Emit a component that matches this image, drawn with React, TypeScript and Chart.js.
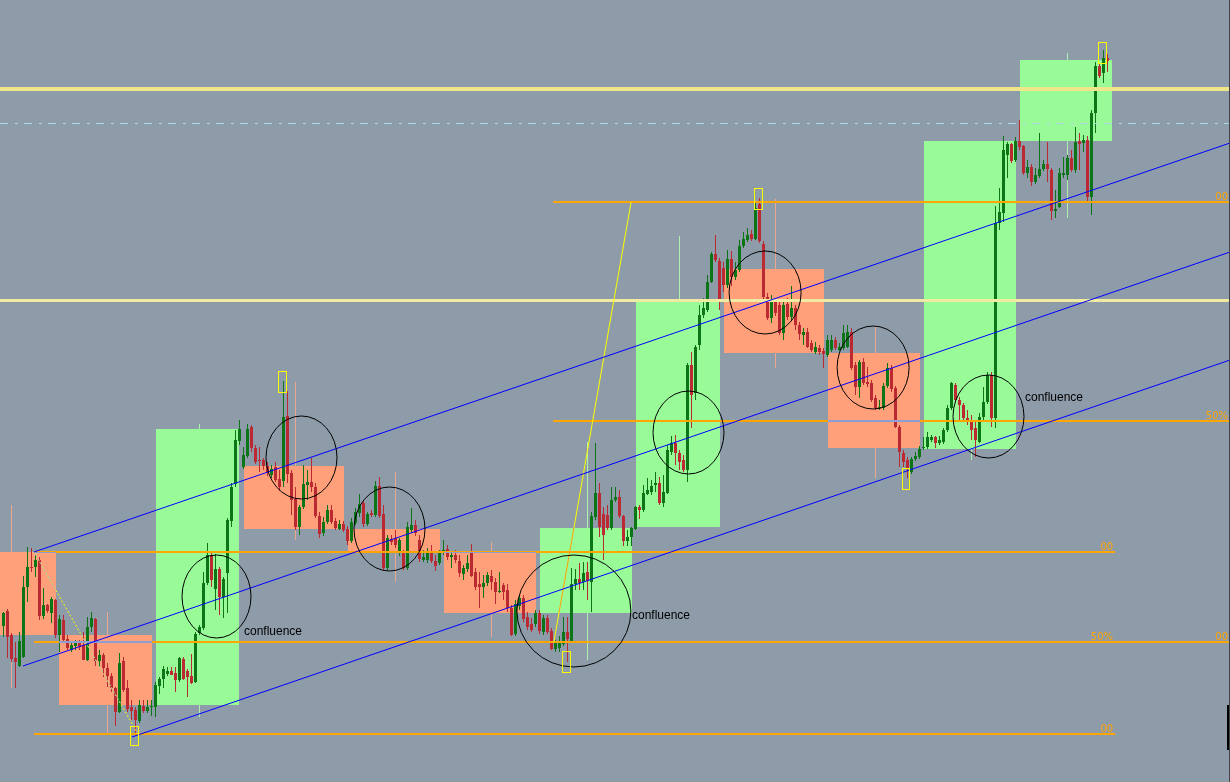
import React, { useEffect, useRef } from "react";
import { Chart, registerables } from "chart.js";

Chart.register(...registerables);

// ---- hourly candles (price units) ----
const opens = [374,389,365,342,334,343,413,433,433,440,384,395,387,400,365,380,361,350,354,357,355,340,373,381,339,345,332,324,312,288,339,312,293,290,279,294,289,293,293,314,321,326,329,327,320,341,329,324,318,367,372,417,445,411,431,403,427,479,516,559,533,544,573,552,540,540,534,525,533,521,519,584,527,501,473,493,515,518,513,484,467,478,490,479,471,476,471,459,477,487,497,476,487,485,514,486,432,461,462,447,447,432,470,475,460,440,440,449,439,437,447,451,443,445,439,426,431,447,428,416,413,417,424,418,408,415,410,392,366,394,402,383,376,376,387,368,382,369,351,352,356,368,358,416,421,418,428,418,483,507,486,485,472,500,503,484,459,463,471,493,490,506,508,515,517,497,507,548,557,547,540,530,635,607,655,685,690,718,746,739,732,715,741,723,730,754,760,766,761,796,756,703,682,698,695,667,696,683,692,675,665,668,657,648,652,649,645,650,660,650,652,653,668,635,613,638,618,617,602,592,592,614,632,612,573,547,540,528,541,543,552,553,560,563,557,558,570,592,615,600,595,582,580,572,558,583,598,625,582,777,787,845,856,840,859,854,827,833,818,824,831,836,830,789,793,825,825,842,830,859,857,860,803,887,934,927,942];
const highs = [388,391,367,358,368,424,453,452,445,443,412,396,403,401,385,385,365,357,360,360,368,383,388,382,350,347,337,327,313,347,343,320,300,293,300,300,300,300,318,323,334,333,333,333,343,343,331,346,368,375,428,457,449,446,433,423,482,517,570,580,553,576,575,555,553,542,538,535,538,530,619,609,530,513,495,535,530,542,517,488,483,495,495,482,480,479,474,482,492,506,500,488,490,519,523,495,465,465,470,462,450,478,492,480,465,450,452,455,445,450,460,455,448,450,445,435,445,456,432,428,425,428,430,422,428,417,416,395,400,405,405,388,382,390,390,385,385,372,360,364,383,383,432,431,437,438,438,488,557,517,493,495,513,513,510,485,470,473,494,495,515,522,520,528,523,525,555,564,565,550,545,637,648,655,695,702,725,748,765,742,738,750,749,738,760,768,772,770,799,802,759,707,705,702,700,698,702,714,695,678,672,672,660,658,655,652,665,665,663,657,675,675,672,638,640,642,633,620,605,600,617,637,635,614,575,550,543,543,548,554,563,568,565,564,564,572,595,618,617,603,597,590,585,580,587,613,628,628,794,812,864,858,857,863,880,855,840,836,832,867,840,858,832,810,832,843,845,850,873,867,865,864,890,938,937,950,946];
const lows = [363,342,338,312,333,342,398,428,423,380,381,387,377,362,348,358,350,348,350,350,340,339,368,334,333,323,313,308,274,287,308,288,280,267,277,287,287,284,283,306,312,324,325,308,318,320,303,316,317,365,370,415,413,390,385,382,387,473,513,555,531,542,548,536,528,530,524,522,518,509,513,517,485,470,465,491,500,508,482,462,464,476,476,470,470,468,455,457,475,483,473,474,483,483,482,430,430,455,452,444,430,430,467,464,438,438,437,437,429,435,445,440,432,437,423,420,428,423,410,392,402,414,410,396,407,400,388,364,364,390,378,370,368,373,366,365,366,350,348,348,354,338,357,410,410,410,400,388,480,463,440,470,470,498,482,454,454,454,470,481,488,505,505,508,495,493,506,545,535,530,528,518,572,600,650,682,688,717,738,690,708,712,714,720,728,752,758,759,760,757,698,680,677,684,665,660,680,680,670,660,655,652,648,646,645,632,643,648,650,649,650,652,630,605,602,615,613,598,590,590,590,612,608,572,533,533,522,526,539,541,550,551,558,552,555,556,568,590,598,580,578,575,560,543,557,580,596,573,572,770,778,822,837,838,850,825,822,814,816,822,829,818,780,782,792,822,820,828,827,830,848,797,785,867,922,917,928];
const closes = [387,363,341,338,359,413,433,432,440,384,395,389,401,365,381,360,352,355,357,353,340,373,382,339,345,332,324,312,288,337,310,291,289,280,295,289,293,294,315,321,331,329,325,320,342,321,323,317,366,373,417,445,420,431,403,421,480,513,560,571,545,571,552,538,539,534,527,531,520,513,583,526,500,473,493,516,518,513,484,466,478,490,478,472,476,470,459,478,488,496,476,486,485,514,484,432,462,458,455,460,432,473,475,467,441,443,449,439,434,447,450,443,445,440,427,432,437,424,413,413,417,425,418,408,409,408,392,365,396,402,381,373,370,387,369,382,368,351,357,357,368,361,416,421,417,427,419,484,507,473,465,472,500,503,484,459,463,472,493,490,507,510,514,517,497,508,550,557,547,538,530,635,605,653,685,692,718,746,740,698,715,741,723,730,754,761,765,761,792,759,703,682,701,687,667,695,683,692,675,666,668,653,650,653,648,646,660,660,652,653,667,668,632,613,638,617,616,600,592,593,614,632,611,573,548,538,532,541,544,551,553,563,563,557,560,570,592,617,600,595,582,579,570,560,583,598,625,582,777,788,850,856,839,859,853,827,833,818,825,831,836,831,789,791,827,827,842,830,858,856,860,803,887,934,924,942,939];

// ---- daily candles drawn as boxes (start/end hour index, open/close) and wicks ----
const dayStart = [-1, 14, 38, 60, 86, 110, 134, 158, 180, 206, 230, 254];
const dayEnd = [13, 37, 59, 85, 109, 133, 157, 179, 205, 229, 253, 277];
const dayOpen = [448, 365, 295, 534, 471, 448, 387, 473, 731, 647, 551, 859];
const dayClose = [365, 295, 571, 471, 449, 387, 472, 700, 647, 552, 859, 940];
const dayMid = [2, 26, 49, 73, 98, 122, 146, 169, 193, 218, 242, 266];
const dayHigh = [495, 388, 576, 618, 528, 458, 558, 764, 801, 673, 859, 947];
const dayLow = [312, 267, 283, 460, 418, 363, 340, 520, 632, 522, 540, 782];

// ---- fibonacci levels ----
const fib1Range = [7.625, 277.9];
const fib1Levels = [448, 358, 266];
const fib2Range = [137.4, 307];
const fib2Levels = [798, 579, 358];
const fibLabels = ["00", "50%", "00"];
// fib diagonals [k1, p1, k2, p2]
const fib1Diag = [7.625, 448, 33.6, 266];
const fib2Diag = [137.6, 358, 156.9, 798];

// ---- channel (trend) lines [k1, p1, k2, p2] ----
const channelUpper = [7.625, 448, 306.625, 857];
const channelMid = [4.875, 334, 306.625, 748];
const channelLower = [32.125, 263, 306.625, 640];

// ---- horizontal levels ----
const levelTop = 911;
const levelMid = 699.5;
const levelDash = 876.5;

// ---- ellipses: centre index, centre price, half-width (index), half-height (price) ----
const ellipseK = [53.25, 74.5, 96.5, 142.6, 171.25, 190.4, 217.4, 246.25];
const ellipseP = [403.5, 542.5, 471, 389, 567.5, 707.5, 632.5, 583.5];
const ellipseHK = [8.625, 8.875, 8.875, 14.25, 8.875, 9, 9, 8.875];
const ellipseHP = [41.5, 41.5, 42, 56, 41.5, 41.5, 41.5, 41.5];

// ---- labels ----
const noteText = ["confluence", "confluence", "confluence"];
const noteK = [60.125, 157.125, 255.375];
const noteP = [368, 384, 602];

// ---- swing markers [k1, p1, k2, p2] ----
const markers = [
  [31.625, 274, 33.625, 255],
  [68.625, 629, 70.625, 608],
  [139.625, 349, 141.625, 328],
  [187.625, 812, 189.625, 791],
  [224.625, 532, 226.375, 511],
  [273.625, 958, 275.625, 937],
];

const XMIN = -0.875;
const XMAX = 306.625;
const YMIN = 218;
const YMAX = 1000;

const BG = "#8E9BA9";
const SALMON = "#FFA07A";
const PALEGREEN = "#98FB98";
const ORANGE = "#FFA500";
const ORANGE_ON_SALMON = "#8D9ED3";
const UP = "#0B7518";
const DOWN = "#BB2A32";

const overlay = {
  id: "overlay",
  beforeDraw(chart: any) {
    const ctx = chart.ctx;
    ctx.save();
    ctx.fillStyle = BG;
    ctx.fillRect(0, 0, chart.width, chart.height);
    ctx.restore();
  },
  beforeDatasetsDraw(chart: any) {
    const ctx = chart.ctx;
    const xs = chart.scales.x;
    const ys = chart.scales.y;
    ctx.save();
    // daily wicks (behind boxes)
    for (let i = 0; i < dayMid.length; i++) {
      const up = dayClose[i] >= dayOpen[i];
      const x = Math.round(xs.getPixelForValue(dayMid[i]) - 0.5);
      const y1 = Math.round(ys.getPixelForValue(dayHigh[i]));
      const y2 = Math.round(ys.getPixelForValue(dayLow[i]));
      ctx.fillStyle = up ? "#AEF2AE" : "#EFA68F";
      ctx.fillRect(x, y1, 1, y2 - y1);
    }
    // daily boxes
    for (let i = 0; i < dayStart.length; i++) {
      const up = dayClose[i] >= dayOpen[i];
      const r = boxRect(chart, i);
      ctx.fillStyle = up ? PALEGREEN : SALMON;
      ctx.fillRect(r[0], r[1], r[2] - r[0], r[3] - r[1]);
    }
    ctx.restore();
  },
  afterDatasetsDraw(chart: any) {
    const ctx = chart.ctx;
    const xs = chart.scales.x;
    const ys = chart.scales.y;
    const X = (k: number) => xs.getPixelForValue(k);
    const Y = (p: number) => ys.getPixelForValue(p);
    const W = chart.width;

    // thick horizontal levels
    ctx.save();
    ctx.strokeStyle = "#F0E68C";
    ctx.lineWidth = 4;
    ctx.beginPath();
    ctx.moveTo(0, Y(levelTop));
    ctx.lineTo(W, Y(levelTop));
    ctx.stroke();
    ctx.strokeStyle = "#F0EAA2";
    ctx.lineWidth = 3;
    ctx.beginPath();
    ctx.moveTo(0, Y(levelMid));
    ctx.lineTo(W, Y(levelMid));
    ctx.stroke();
    // dash-dot level
    ctx.strokeStyle = "#ADD8E6";
    ctx.lineWidth = 1;
    ctx.setLineDash([8, 7, 3, 6]);
    ctx.beginPath();
    ctx.moveTo(0, Y(levelDash));
    ctx.lineTo(W, Y(levelDash));
    ctx.stroke();
    ctx.setLineDash([]);
    ctx.restore();

    // fib levels
    const fibs = [
      [fib1Range, fib1Levels],
      [fib2Range, fib2Levels],
    ];
    for (const [range, levels] of fibs as any) {
      const x1 = X(range[0]);
      const x2 = Math.min(X(range[1]), W);
      levels.forEach((p: number, j: number) => {
        const y = Y(p);
        drawWithBoxes(chart, ORANGE, ORANGE_ON_SALMON, null, (c: any) => {
          c.lineWidth = 2;
          c.beginPath();
          c.moveTo(x1, y);
          c.lineTo(x2, y);
          c.stroke();
        });
        ctx.save();
        ctx.fillStyle = ORANGE;
        ctx.font = "10px 'DejaVu Sans', 'Liberation Sans', sans-serif";
        ctx.textAlign = "right";
        ctx.textBaseline = "alphabetic";
        ctx.fillText(fibLabels[j], x2 - 2, y - 2);
        ctx.restore();
      });
    }

    // fib diagonals
    drawWithBoxes(chart, "#FFFF00", "#8DC4D3", null, (c: any) => {
      c.lineWidth = 1;
      c.setLineDash([2, 2]);
      c.beginPath();
      c.moveTo(X(fib1Diag[0]), Y(fib1Diag[1]));
      c.lineTo(X(fib1Diag[2]), Y(fib1Diag[3]));
      c.stroke();
    });
    drawWithBoxes(chart, "#FFFF00", "#8DC4D3", "#EA9F31", (c: any) => {
      c.lineWidth = 1;
      c.beginPath();
      c.moveTo(X(fib2Diag[0]), Y(fib2Diag[1]));
      c.lineTo(X(fib2Diag[2]), Y(fib2Diag[3]));
      c.stroke();
    });

    // channel lines
    ctx.save();
    ctx.strokeStyle = "#0000FF";
    ctx.lineWidth = 1;
    for (const l of [channelUpper, channelMid, channelLower]) {
      ctx.beginPath();
      ctx.moveTo(X(l[0]), Y(l[1]));
      ctx.lineTo(X(l[2]), Y(l[3]));
      ctx.stroke();
    }
    ctx.restore();

    // ellipses
    ctx.save();
    ctx.strokeStyle = "#000000";
    ctx.lineWidth = 1;
    for (let i = 0; i < ellipseK.length; i++) {
      const cx = X(ellipseK[i]);
      const cy = Y(ellipseP[i]);
      const rx = X(ellipseK[i] + ellipseHK[i]) - cx;
      const ry = cy - Y(ellipseP[i] + ellipseHP[i]);
      ctx.beginPath();
      ctx.ellipse(cx, cy, rx, ry, 0, 0, Math.PI * 2);
      ctx.stroke();
    }
    ctx.restore();

    // swing markers
    ctx.save();
    ctx.strokeStyle = "#FFFF00";
    ctx.lineWidth = 1;
    for (const m of markers) {
      const x1 = Math.round(X(m[0])) + 0.5;
      const y1 = Math.round(Y(m[1])) + 0.5;
      const x2 = Math.round(X(m[2])) + 0.5;
      const y2 = Math.round(Y(m[3])) + 0.5;
      ctx.strokeRect(x1, y1, x2 - x1, y2 - y1);
    }
    ctx.restore();

    // notes
    ctx.save();
    ctx.fillStyle = "#000000";
    ctx.font = "12px 'Liberation Sans', Arial, sans-serif";
    ctx.textBaseline = "middle";
    ctx.textAlign = "left";
    for (let i = 0; i < noteText.length; i++) {
      ctx.fillText(noteText[i], X(noteK[i]), Y(noteP[i]));
    }
    ctx.restore();

    // right frame edge
    ctx.save();
    ctx.fillStyle = "#3E444A";
    ctx.fillRect(W - 1, 0, 1, chart.height);
    ctx.fillStyle = "#000000";
    ctx.fillRect(W - 3, 705, 2, 45);
    ctx.restore();
  },
};

function boxRect(chart: any, i: number) {
  const xs = chart.scales.x;
  const ys = chart.scales.y;
  const x0 = Math.max(0, Math.round(xs.getPixelForValue(dayStart[i])));
  const x1 = Math.round(xs.getPixelForValue(dayEnd[i]));
  const y0 = Math.round(ys.getPixelForValue(Math.max(dayOpen[i], dayClose[i])));
  const y1 = Math.round(ys.getPixelForValue(Math.min(dayOpen[i], dayClose[i])));
  return [x0, y0, x1, y1];
}

function drawWithBoxes(chart: any, color: string, onSalmon: string | null, onGreen: string | null, fn: (c: any) => void) {
  const ctx = chart.ctx;
  ctx.save();
  ctx.strokeStyle = color;
  fn(ctx);
  ctx.restore();
  for (let i = 0; i < dayStart.length; i++) {
    const up = dayClose[i] >= dayOpen[i];
    const alt = up ? onGreen : onSalmon;
    if (!alt) continue;
    const r = boxRect(chart, i);
    ctx.save();
    ctx.beginPath();
    ctx.rect(r[0], r[1], r[2] - r[0], r[3] - r[1]);
    ctx.clip();
    ctx.strokeStyle = alt;
    fn(ctx);
    ctx.restore();
  }
}

export default function App() {
  const ref = useRef<HTMLCanvasElement>(null);
  useEffect(() => {
    document.body.style.margin = "0";
    const canvas = ref.current;
    if (!canvas) return;
    const idx = opens.map((_, i) => i);
    const colors = idx.map((i) => (closes[i] >= opens[i] ? UP : DOWN));
    const chart = new Chart(canvas, {
      type: "bar",
      data: {
        datasets: [
          {
            label: "wick",
            data: idx.map((i) => ({
              x: i,
              y: [Math.min(lows[i], opens[i], closes[i]), Math.max(highs[i], opens[i], closes[i])],
            })),
            backgroundColor: colors,
            barThickness: 1,
            grouped: false,
            borderWidth: 0,
            inflateAmount: 0,
            order: 1,
          } as any,
          {
            label: "body",
            data: idx.map((i) => ({ x: i, y: [opens[i], closes[i]] })),
            backgroundColor: colors,
            barThickness: 3,
            grouped: false,
            borderWidth: 0,
            inflateAmount: 0,
            minBarLength: 1,
            order: 0,
          } as any,
        ],
      },
      options: {
        responsive: false,
        animation: false,
        devicePixelRatio: 1,
        events: [],
        layout: { padding: 0 },
        plugins: { legend: { display: false }, tooltip: { enabled: false } },
        scales: {
          x: { type: "linear", min: XMIN, max: XMAX, display: false, offset: false },
          y: { type: "linear", min: YMIN, max: YMAX, display: false },
        },
      } as any,
      plugins: [overlay],
    });
    return () => chart.destroy();
  }, []);
  return <canvas ref={ref} width={1230} height={782} style={{ display: "block" }} />;
}
